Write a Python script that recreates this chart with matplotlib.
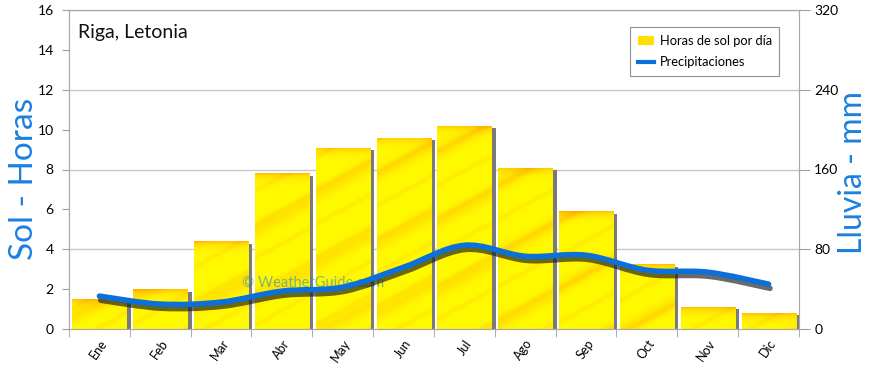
import numpy as np
import matplotlib
matplotlib.use("Agg")
import matplotlib.pyplot as plt
from matplotlib.path import Path
from matplotlib.patches import PathPatch, Rectangle, Patch
from matplotlib.lines import Line2D
import matplotlib.patheffects as pe

plt.rcParams['font.family'] = ['Lato', 'DejaVu Sans']

months = ["Ene", "Feb", "Mar", "Abr", "May", "Jun", "Jul", "Ago", "Sep", "Oct", "Nov", "Dic"]
sun_hours = [1.5, 2.0, 4.4, 7.8, 9.1, 9.6, 10.2, 8.1, 5.9, 3.25, 1.1, 0.8]
rain_mm = [33, 25, 27, 38, 42, 62, 84, 73, 74, 59, 57, 45]
left_ticks = [0, 2, 4, 6, 8, 10, 12, 14, 16]
right_ticks = [0, 80, 160, 240, 320]

BLUE = "#0B70DA"
LABEL_BLUE = "#1A80E0"
GRID = "#C8C8C8"

fig = plt.figure(figsize=(8.7, 3.68), dpi=100)
ax = fig.add_axes([69/870, 39/368, 730/870, 319/368])
ax.set_xlim(-0.5, 11.5)
ax.set_ylim(0, 16)

for g in [4, 8, 12, 16]:
    ax.axhline(g, color=GRID, lw=1, zorder=0)

bar_w = 0.89
def texture(h_px, w_px, phase):
    yy, xx = np.mgrid[0:h_px, 0:w_px].astype(float)
    t = yy + 0.55 * xx
    f1 = (0.5 + 0.5 * np.sin(t / 11.0 + phase)) ** 8
    f2 = (0.5 + 0.5 * np.sin(t / 5.3 + 1.7 * phase)) ** 12
    top = np.exp(-yy / 4.0) * 0.7
    w = np.clip(0.28 * f1 + 0.18 * f2 + top, 0, 1)
    yellow = np.array([1.0, 0.98, 0.0])
    orange = np.array([1.0, 0.68, 0.0])
    return yellow[None, None, :] * (1 - w[..., None]) + orange[None, None, :] * w[..., None]

for i, v in enumerate(sun_hours):
    x0 = i - bar_w / 2
    ax.add_patch(Rectangle((x0 + bar_w, 0), 0.07, v - 0.12, facecolor="#7A7A7A",
                           edgecolor="none", zorder=1))
    rect = Rectangle((x0, 0), bar_w, v, facecolor="#FFF200", edgecolor="none", zorder=2)
    ax.add_patch(rect)
    h_px = max(int(v * 19.94), 2)
    img = texture(h_px, 54, i * 0.9)
    im = ax.imshow(img, extent=[x0, x0 + bar_w, 0, v], aspect="auto", zorder=2.5,
                   interpolation="bilinear")
    im.set_clip_path(rect)

ax.set_xticks(range(12))
ax.set_xticklabels(months, rotation=55, ha="right", va="top", rotation_mode="anchor",
                   fontsize=9)
ax.tick_params(axis="x", length=0, pad=6)
ax.set_xticks(np.arange(-0.5, 12, 1), minor=True)
ax.tick_params(axis="x", which="minor", length=6, color="#A0A0A0")
ax.set_yticks(left_ticks)
ax.tick_params(axis="y", length=5, color="#A0A0A0", labelsize=10, pad=6)
for s in ax.spines.values():
    s.set_color("#A8A8A8")
ax.set_ylabel("Sol - Horas", color=LABEL_BLUE, fontsize=24)
ax.yaxis.label.set_va("center")
ax.yaxis.set_label_coords(-0.0615, 0.47)

ax2 = ax.twinx()
ax2.set_ylim(0, 320)
ax2.set_yticks(right_ticks)
ax2.tick_params(axis="y", length=8, color="#A0A0A0", labelsize=10, pad=3)
for s in ax2.spines.values():
    s.set_color("#A8A8A8")
ax2.set_ylabel("Lluvia - mm", color=LABEL_BLUE, fontsize=23)
ax2.yaxis.label.set_va("center")
ax2.yaxis.set_label_coords(1.0735, 0.49)

pts = np.column_stack([np.arange(12, dtype=float), np.array(rain_mm, dtype=float)])
verts = [tuple(pts[0])]
codes = [Path.MOVETO]
n = len(pts)
for i in range(n - 1):
    p0 = pts[max(i - 1, 0)]
    p1 = pts[i]
    p2 = pts[i + 1]
    p3 = pts[min(i + 2, n - 1)]
    c1 = p1 + (p2 - p0) / 6.0
    c2 = p2 - (p3 - p1) / 6.0
    verts += [tuple(c1), tuple(c2), tuple(p2)]
    codes += [Path.CURVE4] * 3
curve = PathPatch(Path(verts, codes), fill=False, edgecolor=BLUE, lw=4,
                  capstyle="round", joinstyle="round", zorder=5)
curve.set_path_effects([pe.SimpleLineShadow(offset=(1, -3), shadow_color="#1A1A1A", alpha=0.65),
                        pe.Normal()])
ax2.add_patch(curve)

ax.text(0.013, 0.955, "Riga, Letonia", transform=ax.transAxes, fontsize=14,
        va="top", ha="left", color="#111111")
ax.text(0.237, 0.132, "© WeatherGuide.com", transform=ax.transAxes, fontsize=10.5,
        color=LABEL_BLUE, alpha=0.55, zorder=4)

handles = [Patch(facecolor="#FFE000", edgecolor="none"),
           Line2D([0], [0], color=BLUE, lw=3)]
leg = ax2.legend(handles, ["Horas de sol por día", "Precipitaciones"], loc="upper right",
                 bbox_to_anchor=(0.982, 0.966), fontsize=9.3, fancybox=False,
                 edgecolor="#909090", framealpha=1, handlelength=1.3, handleheight=0.6,
                 borderpad=0.6, labelspacing=0.7, handletextpad=0.4)
leg.get_frame().set_linewidth(0.8)

fig.savefig("out.png", dpi=100)
